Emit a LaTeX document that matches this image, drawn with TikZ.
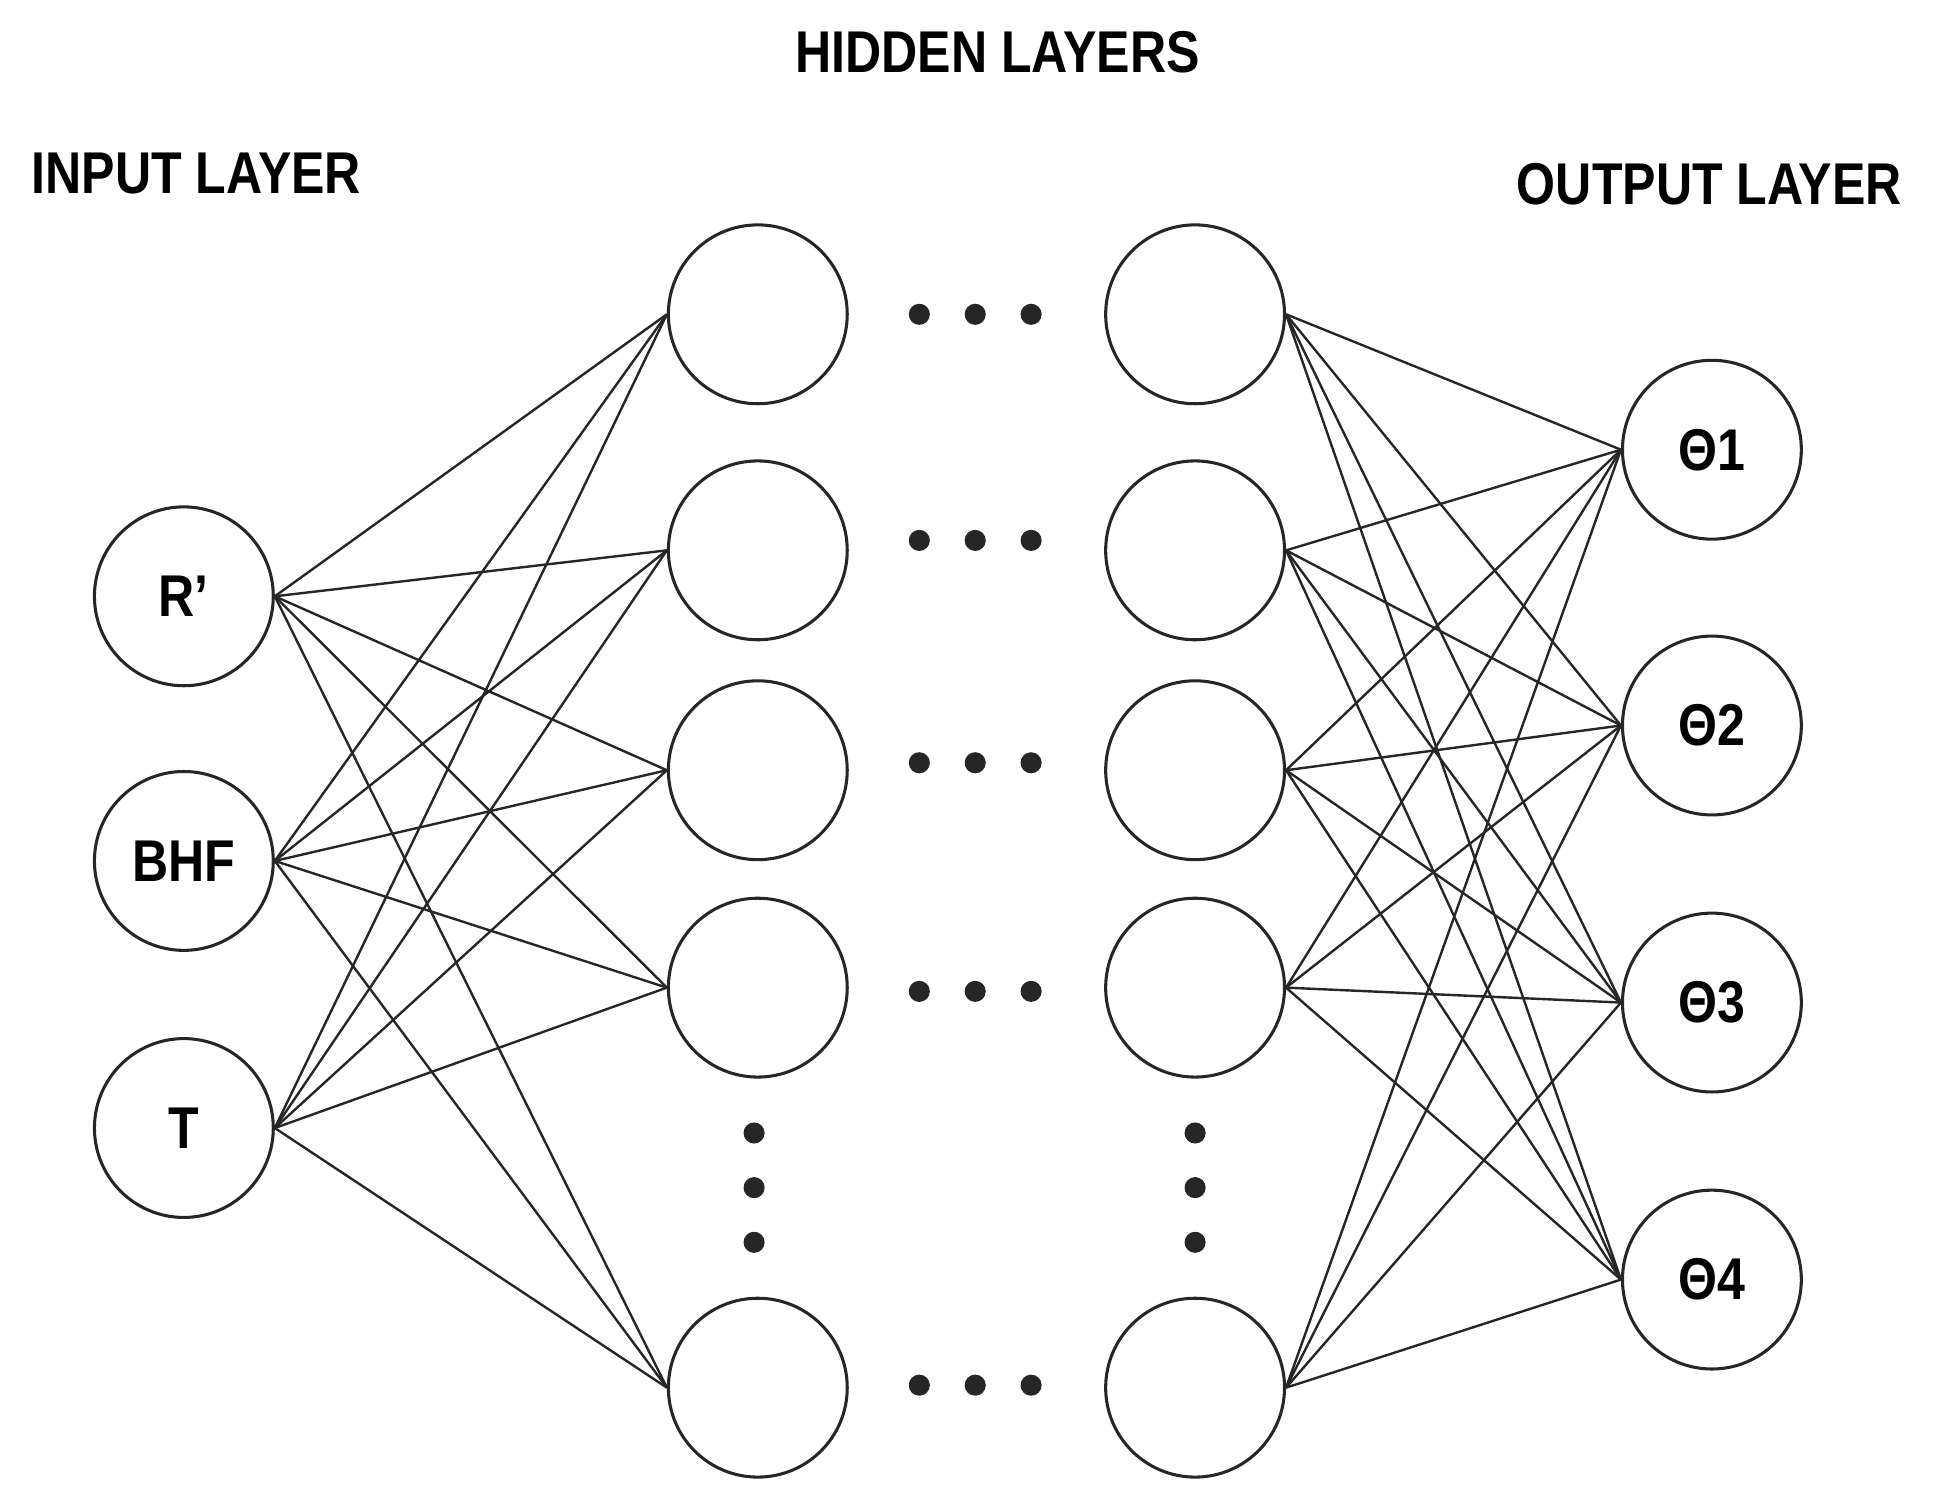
\documentclass[tikz,border=0pt]{standalone}
\usepackage{fontspec}
\setmainfont{Liberation Sans}
\begin{document}
\begin{tikzpicture}[x=0.02cm,y=-0.02cm,
  neuron/.style={circle,draw=black!85,line width=1.4pt,minimum size=2.88cm,inner sep=0pt,font=\fontsize{27}{30}\selectfont\bfseries},
  ttl/.style={font=\fontsize{27}{30}\selectfont\bfseries,xscale=0.85},
  conn/.style={draw=black!85,line width=1.1pt},
  dot/.style={circle,fill=black!85,minimum size=0.34cm,inner sep=0pt}]
\useasboundingbox (0,0) rectangle (1560,1210);
\node[ttl] (th) at (803,42) {HIDDEN LAYERS};
\node[ttl] (ti) at (158,140) {INPUT LAYER};
\node[ttl] (to) at (1376,148) {OUTPUT LAYER};
\node[neuron] (i1) at (148,480) {\scalebox{0.85}[1]{R’}};
\node[neuron] (i2) at (148,693) {\scalebox{0.85}[1]{BHF}};
\node[neuron] (i3) at (148,908) {\scalebox{0.85}[1]{T}};
\foreach \n/\y in {1/253,2/443,3/620,4/795,5/1117}{
  \node[neuron] (a\n) at (610,\y) {};
  \node[neuron] (b\n) at (962,\y) {};
  \ifnum\n<5 \else\fi
}
\foreach \n/\y in {1/253,2/435,3/614,4/798,5/1115}{
  \node[dot] (d\n a) at (740,\y) {};
  \node[dot] (d\n b) at (785,\y) {};
  \node[dot] (d\n c) at (830,\y) {};
}
\foreach \y/\k in {912/1,956/2,1000/3}{
  \node[dot] (va\k) at (607,\y) {};
  \node[dot] (vb\k) at (962,\y) {};
}
\node[neuron] (o1) at (1378,362) {\scalebox{0.85}[1]{Θ1}};
\node[neuron] (o2) at (1378,584) {\scalebox{0.85}[1]{Θ2}};
\node[neuron] (o3) at (1378,807) {\scalebox{0.85}[1]{Θ3}};
\node[neuron] (o4) at (1378,1030) {\scalebox{0.85}[1]{Θ4}};
\foreach \i in {1,2,3}{\foreach \h in {1,...,5}{\draw[conn] (i\i.east) -- (a\h.west);}}
\foreach \h in {1,...,5}{\foreach \o in {1,...,4}{\draw[conn] (b\h.east) -- (o\o.west);}}
\end{tikzpicture}
\end{document}
